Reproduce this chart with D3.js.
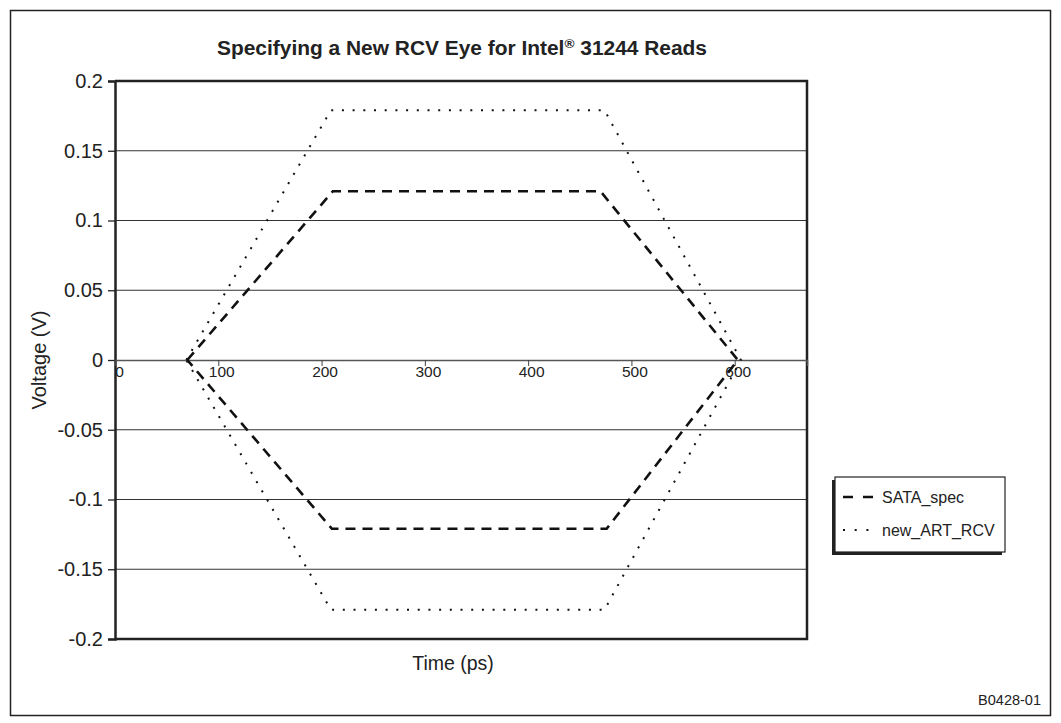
<!DOCTYPE html>
<html>
<head>
<meta charset="utf-8">
<script src="https://cdn.jsdelivr.net/npm/d3@7"></script>
<style>
  body { margin: 0; background: #fff; }
  text { font-family: "Liberation Sans", Arial, sans-serif; fill: #222; }
  .title { font-family: "Liberation Sans Narrow", "Arial Narrow", "Liberation Sans", sans-serif; font-weight: bold; }
</style>
</head>
<body>
<svg width="1061" height="723"></svg>
<script>

// data
const yTicks = [0.2, 0.15, 0.1, 0.05, 0, -0.05, -0.1, -0.15, -0.2];
const yTickLabels = ["0.2", "0.15", "0.1", "0.05", "0", "-0.05", "-0.1", "-0.15", "-0.2"];
const xTicks = [0, 100, 200, 300, 400, 500, 600];

const sataTime = [70, 211, 470, 603, 476, 210, 70];
const sataVolt = [0, 0.121, 0.121, 0, -0.121, -0.121, 0];

const artTime = [69, 209, 474, 606, 474, 209, 69];
const artVolt = [0, 0.179, 0.179, 0, -0.179, -0.179, 0];

const seriesNames = ["SATA_spec", "new_ART_RCV"];


const svg = d3.select("svg"),
  width = +svg.attr("width"),
  height = +svg.attr("height");

const plot = { left: 115, right: 807, top: 81, bottom: 639 };

const x = d3.scaleLinear().domain([0, 670]).range([plot.left, plot.right]);
const y = d3.scaleLinear().domain([-0.2, 0.2]).range([plot.bottom, plot.top]);

// outer frame
svg.append("rect")
  .attr("x", 10.5).attr("y", 10.5)
  .attr("width", 1040).attr("height", 705)
  .attr("fill", "none").attr("stroke", "#222").attr("stroke-width", 1.5);

svg.append("text")
  .attr("class", "title")
  .attr("x", 462).attr("y", 55)
  .attr("text-anchor", "middle")
  .attr("textLength", 490)
  .attr("lengthAdjust", "spacingAndGlyphs")
  .style("font-size", "20px")
  .html('Specifying a New RCV Eye for Intel<tspan dy="-7" style="font-size:13px">®</tspan><tspan dy="7"> 31244 Reads</tspan>');

// gridlines
svg.append("g")
  .selectAll("line")
  .data(yTicks.filter(d => d !== 0 && Math.abs(d) !== 0.2))
  .enter().append("line")
  .attr("x1", plot.left).attr("x2", plot.right)
  .attr("y1", d => y(d)).attr("y2", d => y(d))
  .attr("stroke", "#333").attr("stroke-width", 1);

// plot frame: top, right, bottom
svg.append("path")
  .attr("d", `M${plot.left},${y(0.2)}H${plot.right}V${y(-0.2)}H${plot.left}`)
  .attr("fill", "none").attr("stroke", "#222").attr("stroke-width", 2.5);

// y axis
const yAxis = svg.append("g")
  .attr("transform", `translate(${plot.left},0)`)
  .call(d3.axisLeft(y).tickValues(yTicks).tickSize(7).tickFormat((d, i) => yTickLabels[i]));
yAxis.select(".domain").attr("stroke", "#222").attr("stroke-width", 2.5);
yAxis.selectAll(".tick line").attr("stroke", "#222").attr("stroke-width", 1.3);
yAxis.selectAll(".tick text")
  .attr("x", -12)
  .style("font-family", '"Liberation Sans", Arial, sans-serif')
  .style("font-size", "20px").attr("fill", "#222");

// x axis on the zero line
const xAxis = svg.append("g")
  .attr("transform", `translate(0,${y(0)})`)
  .call(d3.axisBottom(x).tickValues(xTicks).tickSize(6).tickFormat(d3.format("d")));
xAxis.select(".domain").attr("stroke", "#555").attr("stroke-width", 1.5);
xAxis.selectAll(".tick line").attr("stroke", "#444").attr("stroke-width", 1);
xAxis.selectAll(".tick text")
  .attr("dx", 3).attr("y", 6)
  .style("font-family", '"Liberation Sans", Arial, sans-serif')
  .style("font-size", "15.5px").attr("fill", "#222");
xAxis.select(".tick text").attr("dx", 4);

// axis titles
svg.append("text")
  .attr("transform", `translate(46,${y(0)}) rotate(-90)`)
  .attr("text-anchor", "middle")
  .style("font-size", "20px")
  .text("Voltage (V)");

svg.append("text")
  .attr("x", 453).attr("y", 670)
  .attr("text-anchor", "middle")
  .style("font-size", "19.5px")
  .text("Time (ps)");

// series
const line = d3.line().x(d => x(d[0])).y(d => y(d[1]));

svg.append("path")
  .datum(sataTime.map((t, i) => [t, sataVolt[i]]))
  .attr("d", line)
  .attr("fill", "none").attr("stroke", "#111")
  .attr("stroke-width", 2.6)
  .attr("stroke-dasharray", "10,7");

svg.append("path")
  .datum(artTime.map((t, i) => [t, artVolt[i]]))
  .attr("d", line)
  .attr("fill", "none").attr("stroke", "#111")
  .attr("stroke-width", 2)
  .attr("stroke-dasharray", "2,8.7");

// legend
const legend = svg.append("g").attr("transform", "translate(835,477)");
legend.append("rect")
  .attr("x", -3).attr("y", 3).attr("width", 170).attr("height", 75)
  .attr("fill", "#222");
legend.append("rect")
  .attr("x", 0).attr("y", 0).attr("width", 170).attr("height", 75)
  .attr("fill", "#fff").attr("stroke", "#222").attr("stroke-width", 1.2);

const dashes = ["10,10", "2,9.7"];
const widths = [2.6, 2];
seriesNames.forEach((name, i) => {
  const ly = 20 + i * 33;
  legend.append("line")
    .attr("x1", 8).attr("x2", 38)
    .attr("y1", ly).attr("y2", ly)
    .attr("stroke", "#111").attr("stroke-width", widths[i])
    .attr("stroke-dasharray", dashes[i]);
  legend.append("text")
    .attr("x", 47).attr("y", ly + 6)
    .style("font-size", "16px")
    .text(name);
});

svg.append("text")
  .attr("x", 1041).attr("y", 705)
  .attr("text-anchor", "end")
  .style("font-size", "14.5px")
  .text("B0428-01");

</script>
</body>
</html>
